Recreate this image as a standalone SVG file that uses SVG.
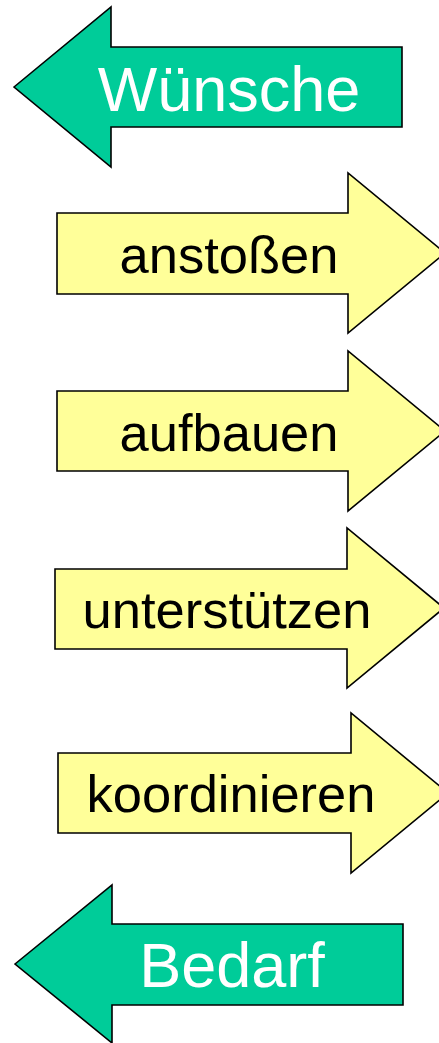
<svg xmlns="http://www.w3.org/2000/svg" width="439" height="1043" viewBox="0 0 439 1043">
<style>
.g{fill:#00CC99;stroke:#000;stroke-width:1.6;stroke-linejoin:miter}
.y{fill:#FFFF99;stroke:#000;stroke-width:1.6;stroke-linejoin:miter}
.tw{font-family:"Liberation Sans",Arial,sans-serif;font-size:63px;fill:#fff;text-anchor:middle}
.tb{font-family:"Liberation Sans",Arial,sans-serif;font-size:52.5px;fill:#000;text-anchor:middle}
</style>
<rect width="439" height="1043" fill="#fff"/>
<g id="wuensche">
<path class="g" d="M14,87 L111,7 L111,47 L402,47 L402,127 L111,127 L111,167 Z"/>
<text class="tw" x="229" y="111">Wünsche</text>
</g>
<g id="anstossen">
<path class="y" d="M57,213 L348,213 L348,173 L445,253 L348,333 L348,294 L57,294 Z"/>
<text class="tb" x="229" y="273">anstoßen</text>
</g>
<g id="aufbauen">
<path class="y" d="M57,391 L348,391 L348,351 L445,431 L348,511 L348,471 L57,471 Z"/>
<text class="tb" x="229" y="451">aufbauen</text>
</g>
<g id="unterstuetzen">
<path class="y" d="M55,569 L347,569 L347,528 L444,608 L347,688 L347,649 L55,649 Z"/>
<text class="tb" x="227" y="628">unterstützen</text>
</g>
<g id="koordinieren">
<path class="y" d="M58,753 L351,753 L351,713 L448,793 L351,873 L351,833 L58,833 Z"/>
<text class="tb" x="231" y="812">koordinieren</text>
</g>
<g id="bedarf">
<path class="g" d="M15,964 L112,885 L112,924 L403,924 L403,1005 L112,1005 L112,1043 Z"/>
<text class="tw" x="232" y="987">Bedarf</text>
</g>
<g id="connectors"/>
</svg>
